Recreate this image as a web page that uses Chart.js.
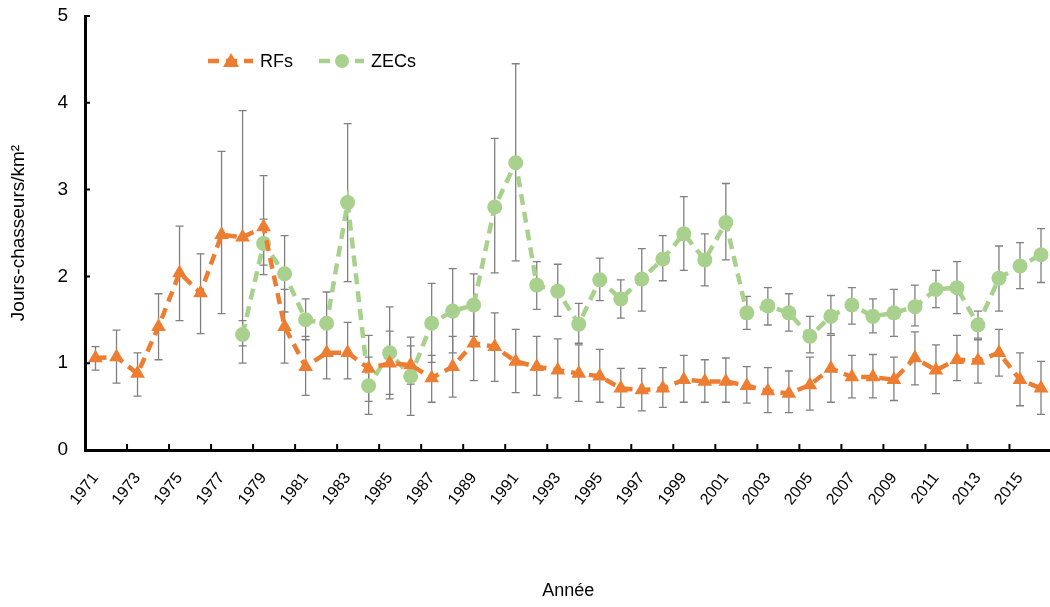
<!DOCTYPE html>
<html lang="fr">

<head>
    <meta charset="UTF-8">
    <title>Jours-chasseurs par km² - RFs et ZECs</title>
    <style>
        body {
            margin: 0;
            padding: 0;
            background: white;
            overflow: hidden;
        }

        .chart-box {
            width: 1060px;
            height: 607px;
        }
    </style>
</head>

<body>
    <div class="chart-box">
        <canvas id="effortChart"></canvas>
    </div>

    <script src="https://cdn.jsdelivr.net/npm/chart.js"></script>
    <script>
        // Années
        const annees = ['1971', '1972', '1973', '1974', '1975', '1976', '1977', '1978', '1979', '1980',
            '1981', '1982', '1983', '1984', '1985', '1986', '1987', '1988', '1989', '1990',
            '1991', '1992', '1993', '1994', '1995', '1996', '1997', '1998', '1999', '2000',
            '2001', '2002', '2003', '2004', '2005', '2006', '2007', '2008', '2009', '2010',
            '2011', '2012', '2013', '2014', '2015', '2016'];

        // RFs : moyenne et bornes des barres d'erreur
        const rfMoy = [1.06, 1.07, 0.88, 1.42, 2.04, 1.81, 2.48, 2.45, 2.57, 1.42,
            0.96, 1.12, 1.12, 0.94, 1.00, 0.98, 0.83, 0.96, 1.23, 1.19,
            1.02, 0.96, 0.92, 0.88, 0.85, 0.71, 0.69, 0.71, 0.81, 0.79,
            0.79, 0.74, 0.68, 0.65, 0.75, 0.94, 0.84, 0.84, 0.81, 1.06,
            0.92, 1.04, 1.03, 1.12, 0.81, 0.71];
        const rfHaut = [1.19, 1.38, 1.12, 1.80, 2.58, 2.26, 3.44, 3.91, 3.16, 1.85,
            1.31, 1.42, 1.47, 1.32, 1.37, 1.20, 1.09, 1.31, 1.66, 1.58,
            1.39, 1.31, 1.28, 1.21, 1.16, 0.94, 0.94, 0.95, 1.09, 1.04,
            1.06, 0.96, 0.95, 0.91, 1.07, 1.32, 1.09, 1.10, 1.07, 1.36,
            1.21, 1.32, 1.27, 1.39, 1.12, 1.02];
        const rfBas = [0.92, 0.77, 0.62, 1.04, 1.49, 1.34, 1.57, 1.00, 2.02, 1.00,
            0.63, 0.82, 0.82, 0.56, 0.64, 0.76, 0.55, 0.61, 0.80, 0.79,
            0.66, 0.63, 0.60, 0.56, 0.55, 0.49, 0.45, 0.49, 0.55, 0.55,
            0.55, 0.54, 0.43, 0.43, 0.46, 0.55, 0.60, 0.60, 0.57, 0.75,
            0.65, 0.80, 0.77, 0.85, 0.51, 0.41];

        // ZECs : pas de données avant 1978
        const zecMoy = [null, null, null, null, null, null, null, 1.33, 2.38, 2.03,
            1.50, 1.46, 2.85, 0.74, 1.12, 0.85, 1.46, 1.60, 1.67, 2.80,
            3.31, 1.90, 1.83, 1.45, 1.96, 1.74, 1.97, 2.20, 2.49, 2.19,
            2.62, 1.58, 1.66, 1.58, 1.31, 1.54, 1.67, 1.54, 1.58, 1.65,
            1.85, 1.87, 1.44, 1.98, 2.12, 2.25];
        const zecHaut = [null, null, null, null, null, null, null, 1.49, 2.66, 2.47,
            1.74, 1.82, 3.76, 1.07, 1.65, 1.30, 1.92, 2.09, 2.03, 3.59,
            4.45, 2.17, 2.14, 1.69, 2.21, 1.96, 2.32, 2.47, 2.92, 2.49,
            3.07, 1.77, 1.87, 1.80, 1.54, 1.78, 1.87, 1.74, 1.85, 1.90,
            2.07, 2.17, 1.60, 2.35, 2.39, 2.55];
        const zecBas = [null, null, null, null, null, null, null, 1.20, 2.13, 1.59,
            1.27, 1.10, 1.94, 0.41, 0.59, 0.40, 1.01, 1.12, 1.31, 2.04,
            2.18, 1.62, 1.54, 1.23, 1.72, 1.52, 1.60, 1.95, 2.07, 1.89,
            2.19, 1.39, 1.44, 1.37, 1.12, 1.34, 1.45, 1.35, 1.31, 1.43,
            1.64, 1.57, 1.29, 1.60, 1.86, 1.93];

        const orange = '#ED7D31';
        const vert = '#A9D18E';
        const police = '"Liberation Sans", Arial, sans-serif';

        // Barres d'erreur dessinées sous les séries
        const barresErreur = {
            id: 'barresErreur',
            beforeDatasetsDraw(chart) {
                const { ctx } = chart;
                const sx = chart.scales.x;
                const sy = chart.scales.y;
                const series = [[rfHaut, rfBas], [zecHaut, zecBas]];
                ctx.save();
                ctx.strokeStyle = '#808080';
                ctx.lineWidth = 1.3;
                series.forEach(([haut, bas]) => {
                    haut.forEach((h, i) => {
                        if (h === null) return;
                        const x = sx.getPixelForValue(i);
                        const y1 = sy.getPixelForValue(h);
                        const y2 = sy.getPixelForValue(bas[i]);
                        ctx.beginPath();
                        ctx.moveTo(x, y1);
                        ctx.lineTo(x, y2);
                        ctx.moveTo(x - 4, y1);
                        ctx.lineTo(x + 4, y1);
                        ctx.moveTo(x - 4, y2);
                        ctx.lineTo(x + 4, y2);
                        ctx.stroke();
                    });
                });
                ctx.restore();
            }
        };

        // Graduations tournées vers l'intérieur du graphique
        const graduations = {
            id: 'graduations',
            afterDraw(chart) {
                const { ctx, chartArea } = chart;
                const sx = chart.scales.x;
                const sy = chart.scales.y;
                ctx.save();
                ctx.strokeStyle = 'black';
                ctx.lineWidth = 2;
                ctx.beginPath();
                sy.ticks.forEach(t => {
                    const y = sy.getPixelForValue(t.value);
                    ctx.moveTo(chartArea.left, y);
                    ctx.lineTo(chartArea.left + 5, y);
                });
                const demi = (sx.getPixelForValue(1) - sx.getPixelForValue(0)) / 2;
                for (let i = 2; i < annees.length; i += 2) {
                    const x = sx.getPixelForValue(i) - demi;
                    ctx.moveTo(x, chartArea.bottom);
                    ctx.lineTo(x, chartArea.bottom - 6);
                }
                ctx.stroke();
                ctx.restore();
            }
        };

        // Légende maison : trait pointillé + marqueur + texte
        const legende = {
            id: 'legende',
            afterDraw(chart) {
                const { ctx } = chart;
                const items = [
                    { texte: 'RFs', couleur: orange, forme: 'triangle', x: 208 },
                    { texte: 'ZECs', couleur: vert, forme: 'cercle', x: 319 }
                ];
                const y = 61;
                ctx.save();
                items.forEach(it => {
                    ctx.strokeStyle = it.couleur;
                    ctx.fillStyle = it.couleur;
                    ctx.lineWidth = 4.5;
                    ctx.setLineDash([11, 7]);
                    ctx.beginPath();
                    ctx.moveTo(it.x, y);
                    ctx.lineTo(it.x + 45, y);
                    ctx.stroke();
                    ctx.setLineDash([]);
                    const cx = it.x + 23;
                    ctx.beginPath();
                    if (it.forme === 'triangle') {
                        ctx.moveTo(cx, y - 8);
                        ctx.lineTo(cx + 8, y + 6);
                        ctx.lineTo(cx - 8, y + 6);
                        ctx.closePath();
                    } else {
                        ctx.arc(cx, y, 7, 0, Math.PI * 2);
                    }
                    ctx.fill();
                    ctx.fillStyle = 'black';
                    ctx.font = '18px ' + police;
                    ctx.textBaseline = 'middle';
                    ctx.fillText(it.texte, it.x + 52, y + 1);
                });
                ctx.restore();
            }
        };

        const ctx = document.getElementById('effortChart').getContext('2d');

        new Chart(ctx, {
            type: 'line',
            data: {
                labels: annees,
                datasets: [{
                    label: 'RFs',
                    data: rfMoy,
                    borderColor: orange,
                    backgroundColor: orange,
                    borderWidth: 4.5,
                    borderDash: [11, 7],
                    pointStyle: 'triangle',
                    pointRadius: 8.5,
                    pointBorderWidth: 0,
                    tension: 0
                }, {
                    label: 'ZECs',
                    data: zecMoy,
                    borderColor: vert,
                    backgroundColor: vert,
                    borderWidth: 4.5,
                    borderDash: [11, 7],
                    pointStyle: 'circle',
                    pointRadius: 7.5,
                    pointBorderWidth: 0,
                    tension: 0
                }]
            },
            options: {
                responsive: true,
                maintainAspectRatio: false,
                animation: false,
                layout: {
                    padding: { top: 16, right: 4, left: 0, bottom: 0 }
                },
                plugins: {
                    legend: { display: false },
                    tooltip: { enabled: false }
                },
                scales: {
                    x: {
                        offset: true,
                        afterFit: s => { s.height = 157; },
                        border: { color: 'black', width: 3 },
                        // marques dessinées par le plugin ; tickLength sert d'écart aux libellés
                        grid: { display: false, drawTicks: true, tickLength: 19 },
                        ticks: {
                            autoSkip: false,
                            maxRotation: 52,
                            minRotation: 52,
                            padding: 0,
                            color: 'black',
                            font: { family: police, size: 16 },
                            callback: function (val, i) {
                                return i % 2 === 0 ? this.getLabelForValue(val) : '';
                            }
                        },
                        title: {
                            display: true,
                            text: 'Année',
                            color: 'black',
                            font: { family: police, size: 18 },
                            padding: { top: 4, bottom: 5 }
                        }
                    },
                    y: {
                        min: 0,
                        max: 5,
                        afterFit: s => { s.width = 85; },
                        border: { color: 'black', width: 3 },
                        grid: { display: false, drawTicks: true, tickLength: 17 },
                        ticks: {
                            stepSize: 1,
                            padding: 0,
                            color: 'black',
                            font: { family: police, size: 19 }
                        },
                        title: {
                            display: true,
                            text: 'Jours-chasseurs/km²',
                            color: 'black',
                            font: { family: police, size: 19 },
                            padding: { top: 7, bottom: 0 }
                        }
                    }
                }
            },
            plugins: [barresErreur, graduations, legende]
        });
    </script>
</body>

</html>
